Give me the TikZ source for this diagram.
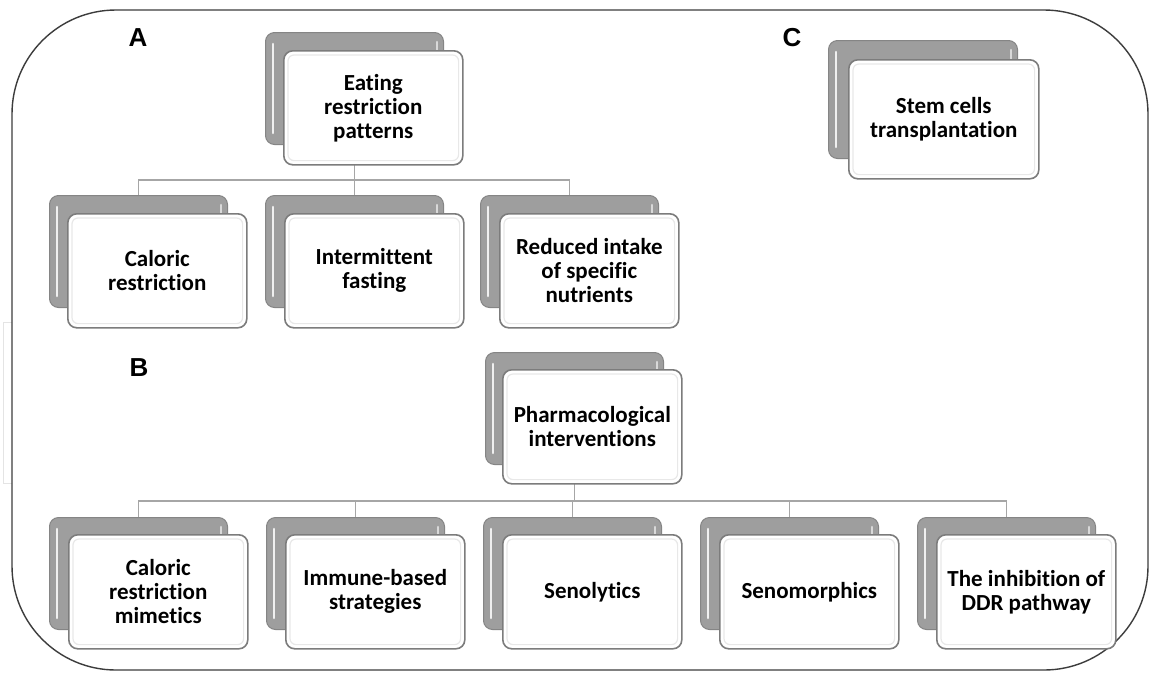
\documentclass[tikz,border=0pt]{standalone}
\usepackage{fontspec}
\setmainfont{Carlito}[Ligatures=NoCommon]
\newfontfamily\lblfont{Liberation Sans}
\definecolor{framec}{HTML}{3C3C3C}
\definecolor{connc}{HTML}{A6A6A6}
\definecolor{backfill}{HTML}{9E9E9E}
\definecolor{backdraw}{HTML}{858585}
\definecolor{frontdraw}{HTML}{7C7C7C}
\definecolor{faint}{HTML}{E4E4E4}
\begin{document}
\begin{tikzpicture}[x=1pt,y=-1pt,
  backbox/.style={draw=backdraw, line width=1pt, fill=backfill, rounded corners=9pt,
    minimum width=178pt, minimum height=112pt, anchor=north west, inner sep=0pt},
  frontbox/.style={draw=frontdraw, line width=1.6pt, fill=white, rounded corners=9pt,
    minimum width=179pt, minimum height=114pt, anchor=north west, inner sep=2pt,
    align=center, font=\bfseries\fontsize{23}{24}\selectfont},
  hl/.style={draw=white!88!gray, line width=2.6pt, line cap=round},
  inner/.style={draw=gray!18, line width=1.2pt, rounded corners=6pt},
  conn/.style={draw=connc, line width=1.3pt},
  lbl/.style={font=\lblfont\bfseries\fontsize{26}{28}\selectfont, inner sep=0pt}]
\useasboundingbox (0,0) rectangle (1150,673);
\fill[white] (0,0) rectangle (1150,673);
% faint artefact at left
\draw[faint, line width=1pt] (12,322) -- (3,322) -- (3,483) -- (12,483);
% outer frame
\draw[framec, line width=1.4pt, rounded corners=104pt] (12,10) rectangle (1148,670);
% labels
\node[lbl] (labA) at (138,38) {A};
\node[lbl] (labB) at (139,368) {B};
\node[lbl] (labC) at (792,38) {C};
% bus coordinates
\coordinate (busA) at (0,180);
\coordinate (busB) at (0,501);
% back boxes
\node[backbox] (pAb) at (265,32) {};
\node[backbox] (a1b) at (49,195) {};
\node[backbox] (a2b) at (265,195) {};
\node[backbox] (a3b) at (480,195) {};
\node[backbox] (pBb) at (485,352) {};
\node[backbox] (b1b) at (49,517) {};
\node[backbox] (b2b) at (266,517) {};
\node[backbox] (b3b) at (483,517) {};
\node[backbox] (b4b) at (700,517) {};
\node[backbox] (b5b) at (917,517) {};
\node[backbox, minimum width=189pt, minimum height=118pt] (cb) at (828,40) {};
% connectors
\draw[conn] (pAb.south) -- (pAb.south |- busA) -| (a1b.north);
\draw[conn] (pAb.south |- busA) -- (a2b.north);
\draw[conn] (pAb.south |- busA) -| (a3b.north);
\draw[conn] (pBb.south) -- (pBb.south |- busB) -| (b1b.north);
\draw[conn] (pBb.south |- busB) -| (b2b.north);
\draw[conn] (pBb.south |- busB) -| (b3b.north);
\draw[conn] (pBb.south |- busB) -| (b4b.north);
\draw[conn] (pBb.south |- busB) -| (b5b.north);
% highlights on back boxes
\foreach \b in {pAb,a1b,a2b,a3b,pBb,b1b,b2b,b3b,b4b,b5b,cb}{
  \draw[hl] ([xshift=8pt,yshift=-12pt]\b.north west) -- ([xshift=8pt,yshift=12pt]\b.south west);
  \draw[hl, draw=white!70!gray] ([xshift=-7pt,yshift=-10pt]\b.north east) -- ([xshift=-7pt,yshift=-22pt]\b.north east);
}
% front boxes
\node[frontbox] (pA) at (283,50) {Eating\\restriction\\patterns};
\node[frontbox] (a1) at (67,213) {Caloric\\restriction};
\node[frontbox] (a2) at (284,213) {Intermittent\\fasting};
\node[frontbox] (a3) at (499,213) {Reduced intake\\of specific\\nutrients};
\node[frontbox] (pB) at (502,369) {Pharmacological\\interventions};
\node[frontbox] (b1) at (68,534) {Caloric\\restriction\\mimetics};
\node[frontbox] (b2) at (285,534) {Immune-based\\strategies};
\node[frontbox] (b3) at (502,534) {Senolytics};
\node[frontbox] (b4) at (719,534) {Senomorphics};
\node[frontbox] (b5) at (936,534) {The inhibition of\\DDR pathway};
\node[frontbox, minimum width=190pt, minimum height=119pt] (c) at (848,59) {Stem cells\\transplantation};
% inner bevels on front boxes
\foreach \f in {pA,a1,a2,a3,pB,b1,b2,b3,b4,b5,c}{
  \draw[inner] ([xshift=5pt,yshift=-5pt]\f.north west) rectangle ([xshift=-5pt,yshift=5pt]\f.south east);
}
\end{tikzpicture}
\end{document}
